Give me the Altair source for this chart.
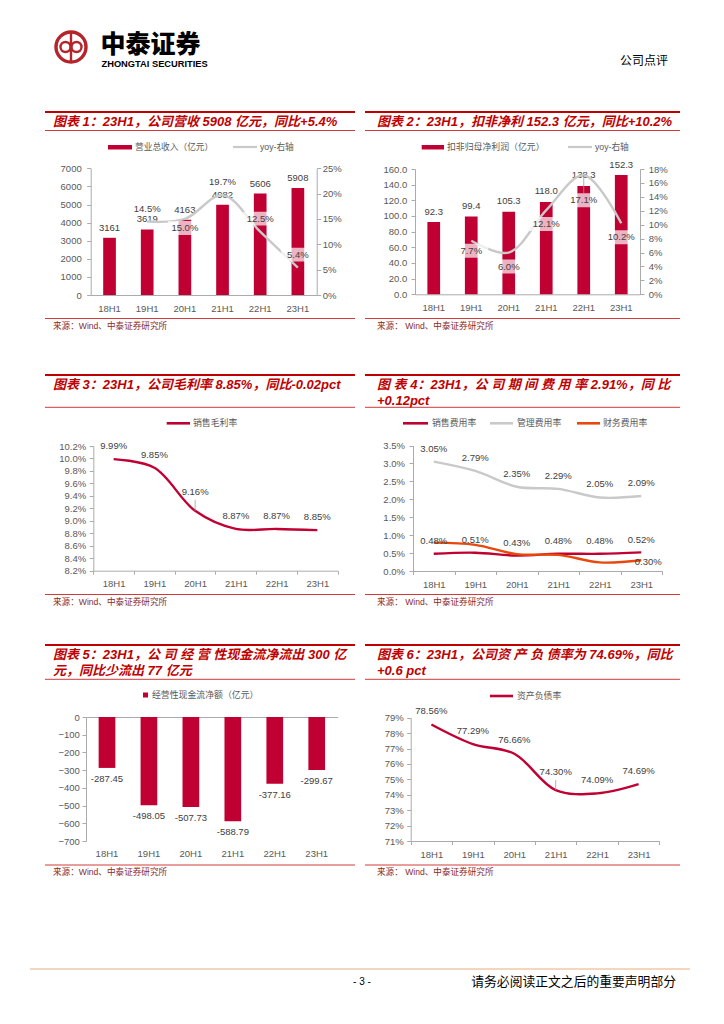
import altair as alt
import pandas as pd

W, H = 708, 1008


def X(v):
    return v - 8


def Y(v):
    return v - 8


# ---------------- data ----------------
cats = ["18H1", "19H1", "20H1", "21H1", "22H1", "23H1"]
revenue = [3161, 3619, 4163, 4982, 5606, 5908]
revenue_yoy = [None, 14.5, 15.0, 19.7, 12.5, 5.4]
profit = [92.3, 99.4, 105.3, 118.0, 138.3, 152.3]
profit_yoy = [None, 7.7, 6.0, 12.1, 17.1, 10.2]
gross_margin = [9.99, 9.85, 9.16, 8.87, 8.87, 8.85]
sales_rate = [0.48, 0.51, 0.43, 0.48, 0.48, 0.52]
admin_rate = [3.05, 2.79, 2.35, 2.29, 2.05, 2.09]
finance_rate = [0.79, 0.73, 0.47, 0.45, 0.24, 0.30]
op_cashflow = [-287.45, -498.05, -507.73, -588.79, -377.16, -299.67]
debt_ratio = [78.56, 77.29, 76.66, 74.30, 74.09, 74.69]

# ---------------- style ----------------
NUM = "Liberation Sans"
CJK = "Noto Sans CJK SC"
MIX = "Liberation Sans, Noto Sans CJK SC"
TITLE_RED = "#C00000"
BAR = "#C00032"
GRAY = "#C9C9C9"
ORANGE = "#E8480C"
AX = "#ABABAB"
LAB = "#595959"
DATA = "#404040"
SRC = "#8C2A2A"
LOGO = "#B5232B"
BOX = "M-1,-0.41L1,-0.41L1,0.41L-1,0.41Z"
BOX_SIZE = 34 * 34

L = []


def txt(x, y, s, size=9.0, color="#000", font=CJK, weight="normal", style="normal", align="left"):
    L.append(alt.Chart(pd.DataFrame({"t": [s]})).mark_text(
        align=align, baseline="middle", font=font, fontSize=size, fontWeight=weight,
        fontStyle=style, color=color).encode(x=alt.value(X(x)), y=alt.value(Y(y)), text="t:N"))


def hrule(x0, x1, y, color, width):
    L.append(alt.Chart(pd.DataFrame({"t": [0]})).mark_rule(color=color, strokeWidth=width).encode(
        x=alt.value(X(x0)), x2=alt.value(X(x1)), y=alt.value(Y(y))))


def box(x0, x1, y0, y1, color):
    L.append(alt.Chart(pd.DataFrame({"t": [0]})).mark_rect(color=color).encode(
        x=alt.value(X(x0)), x2=alt.value(X(x1)), y=alt.value(Y(y0)), y2=alt.value(Y(y1))))


def band(x0, x1, pi=0.0, po=0.0):
    return alt.Scale(type="band", domain=cats, range=[X(x0), X(x1)], paddingInner=pi, paddingOuter=po)


def lin(d0, d1, yb, yt):
    return alt.Scale(type="linear", domain=[d0, d1], range=[Y(yb), Y(yt)], nice=False, zero=False)


def xc(sc, axis=None):
    return alt.X("cat:N", scale=sc, axis=axis, bandPosition=0.5)


def yv(sc, axis=None):
    return alt.Y("v:Q", scale=sc, axis=axis)


def xaxis(yline, **kw):
    base = dict(orient="bottom", offset=Y(yline) - H, title=None, labelAngle=0, labelFont=NUM,
                labelFontSize=9.5, labelColor=LAB, domainColor=AX, tickColor=AX, grid=False,
                labelOverlap=False)
    base.update(kw)
    return alt.Axis(**base)


def yaxis(side, xline, values, pad=4, expr=None, fmt=None):
    off = -X(xline) if side == "left" else X(xline) - W
    base = dict(orient=side, offset=off, values=values, title=None, grid=False, labelFont=NUM,
                labelFontSize=9.5, labelColor=LAB, domainColor=AX, tickColor=AX, tickSize=4,
                labelPadding=pad, labelOverlap=False)
    if expr:
        base["labelExpr"] = expr
    if fmt:
        base["format"] = fmt
    return alt.Axis(**base)


def frame(values, fmt):
    rows = [(c, v, fmt(v)) for c, v in zip(cats, values) if v is not None]
    return pd.DataFrame(rows, columns=["cat", "v", "lab"])


def only(chart, subset):
    return chart.transform_filter(alt.FieldOneOfPredicate(field="cat", oneOf=subset))


def labels(df, xs, ys, dy, subset=None, dx=0, boxed=False):
    out = []
    if boxed:
        b = alt.Chart(df)
        if subset:
            b = only(b, subset)
        out.append(b.mark_point(shape=BOX, size=BOX_SIZE, filled=True, color="white",
                                fillOpacity=0.7, strokeWidth=0, yOffset=dy, xOffset=dx).encode(
            x=xc(xs), y=yv(ys)))
    t = alt.Chart(df)
    if subset:
        t = only(t, subset)
    out.append(t.mark_text(dy=dy, dx=dx, font=NUM, fontSize=9.5, color=DATA, baseline="middle").encode(
        x=xc(xs), y=yv(ys), text="lab:N"))
    L.extend(out)


def leader(df, xs, ys, subset, off):
    L.append(only(alt.Chart(df), subset).mark_rule(color="#9A9A9A", strokeWidth=0.8, y2Offset=off).encode(
        x=xc(xs), y=yv(ys), y2=alt.Y2("v")))


def line(df, xs, ys, color, axis=None, width=2.4):
    L.append(alt.Chart(df).mark_line(interpolate="catmull-rom", color=color, strokeWidth=width).encode(
        x=xc(xs), y=yv(ys, axis)))


# ---------------- header / footer ----------------
L.append(alt.Chart(pd.DataFrame({"t": [0]})).mark_point(shape="circle", size=30 * 30, filled=False,
                                                        stroke=LOGO, strokeWidth=3.4, opacity=1).encode(
    x=alt.value(X(71)), y=alt.value(Y(47))))
for cx in (65.5, 76.5):
    L.append(alt.Chart(pd.DataFrame({"t": [0]})).mark_point(shape="circle", size=10 * 10, filled=False,
                                                            stroke=LOGO, strokeWidth=2.4, opacity=1).encode(
        x=alt.value(X(cx)), y=alt.value(Y(47))))
L.append(alt.Chart(pd.DataFrame({"t": [0]})).mark_rule(color=LOGO, strokeWidth=2.4).encode(
    x=alt.value(X(71)), y=alt.value(Y(33)), y2=alt.value(Y(61))))
txt(100.5, 44.5, "中泰证券", size=25, font=CJK, weight=900)
txt(101.5, 64.2, "ZHONGTAI SECURITIES", size=9.3, font=NUM, weight="bold")
txt(668, 61, "公司点评", size=12, font=CJK, align="right")
hrule(30, 690, 969, "#F2C7A6", 1.5)
txt(362, 982, "- 3 -", size=10, font=NUM, align="center")
txt(676, 982, "请务必阅读正文之后的重要声明部分", size=12.8, font=CJK, align="right")


def panel_frame(left, top_y, title_lines, thin_y, src_y):
    x0, x1 = (45, 355) if left else (365, 680)
    tx = 53 if left else 377
    hrule(x0, x1, top_y, TITLE_RED, 2)
    for i, t in enumerate(title_lines):
        txt(tx, top_y + 10 + i * 16.2, t, size=13, font=MIX, weight="bold", style="italic", color=TITLE_RED)
    hrule(x0, x1, thin_y, "#D23A3A", 1)
    hrule(x0, x1, src_y, "#D23A3A", 1)
    txt(tx, src_y + 7, "来源：Wind、中泰证券研究所" if left else "来源： Wind、中泰证券研究所",
        size=8.6, font=MIX, color=SRC)


# ---------------- chart 1 ----------------
panel_frame(True, 112, ["图表 1：23H1，公司营收 5908 亿元，同比+5.4%"], 130.5, 318.5)
box(108, 132, 145, 149.5, BAR)
txt(135, 147, "营业总收入（亿元）", size=8.7, color=LAB)
hrule(233, 257, 147, GRAY, 2.2)
txt(260, 147, "yoy-右轴", size=8.7, font=MIX, color=LAB)

xs1 = band(90.7, 316.7, 0.663, 0.3315)
yl1 = lin(0, 7000, 295, 168.3)
yr1 = lin(0, 25, 295, 168.3)
d1 = frame(revenue, lambda v: f"{v:d}")
y1 = frame(revenue_yoy, lambda v: f"{v:.1f}%")
L.append(alt.Chart(d1).mark_bar(color=BAR).encode(
    x=alt.X("cat:N", scale=xs1, axis=xaxis(295, ticks=False, tickSize=0, labelPadding=8)),
    y=yv(yl1, yaxis("left", 90.7, list(range(0, 7001, 1000)), pad=5.5, fmt="d"))))
labels(d1, xs1, yl1, -10)
line(y1, xs1, yr1, GRAY, yaxis("right", 316.7, [0, 5, 10, 15, 20, 25], pad=1.5, expr="datum.value + '%'"))
labels(y1, xs1, yr1, -13, ["19H1", "21H1", "22H1", "23H1"], boxed=True)
labels(y1, xs1, yr1, 9, ["20H1"], boxed=True)

# ---------------- chart 2 ----------------
panel_frame(False, 112, ["图表 2：23H1，扣非净利 152.3 亿元，同比+10.2%"], 130.5, 318.5)
box(421.7, 444, 145, 149.5, BAR)
txt(447, 147, "扣非归母净利润（亿元）", size=8.9, color=LAB)
hrule(568, 592, 147, GRAY, 2.2)
txt(595, 147, "yoy-右轴", size=8.7, font=MIX, color=LAB)

xs2 = band(415, 640, 0.661, 0.3305)
yl2 = lin(0, 160, 294.3, 169)
yr2 = lin(0, 18, 294.3, 169)
d2 = frame(profit, lambda v: f"{v:.1f}")
y2 = frame(profit_yoy, lambda v: f"{v:.1f}%")
L.append(alt.Chart(d2).mark_bar(color=BAR).encode(
    x=alt.X("cat:N", scale=xs2, axis=xaxis(294.3, ticks=False, tickSize=0, labelPadding=8.5)),
    y=yv(yl2, yaxis("left", 415, list(range(0, 161, 20)), pad=4.3, fmt=".1f"))))
labels(d2, xs2, yl2, -10.5)
line(y2, xs2, yr2, GRAY, yaxis("right", 640, list(range(0, 19, 2)), pad=4.3, expr="datum.value + '%'"))
leader(y2, xs2, yr2, ["22H1"], 18)
labels(y2, xs2, yr2, 14, ["20H1", "21H1", "23H1"], boxed=True)
labels(y2, xs2, yr2, 10, ["19H1"], boxed=True)
labels(y2, xs2, yr2, 25, ["22H1"], boxed=True)

# ---------------- chart 3 ----------------
panel_frame(True, 375, ["图表 3：23H1，公司毛利率 8.85%，同比-0.02pct"], 407.3, 594.5)
hrule(166.7, 190, 423.3, BAR, 2.6)
txt(193, 423.3, "销售毛利率", size=8.9, color=LAB)

xs3 = band(93.3, 337.7)
ys3 = lin(8.2, 10.2, 570.7, 446)
d3 = frame(gross_margin, lambda v: f"{v:.2f}%")
L.append(alt.Chart(d3).mark_point(opacity=0).encode(
    x=alt.X("cat:N", scale=xs3, axis=xaxis(570.7, tickBand="extent", tickSize=3.5, labelPadding=4.5))))
line(d3, xs3, ys3, BAR, yaxis("left", 93.3, [round(8.2 + 0.2 * i, 1) for i in range(11)], pad=3.6,
                              expr="format(datum.value, '.1f') + '%'"))
leader(d3, xs3, ys3, ["20H1"], -11)
labels(d3, xs3, ys3, -13, ["18H1", "19H1", "21H1", "22H1", "23H1"])
labels(d3, xs3, ys3, -18.5, ["20H1"])

# ---------------- chart 4 ----------------
panel_frame(False, 375, ["图 表  4：23H1，公 司 期 间 费 用 率  2.91%，同 比", "+0.12pct"], 407.3, 594.5)
hrule(403, 428, 423.3, BAR, 2.6)
txt(432, 423.3, "销售费用率", size=8.9, color=LAB)
hrule(490, 513, 423.3, GRAY, 2.6)
txt(517, 423.3, "管理费用率", size=8.9, color=LAB)
hrule(577, 600, 423.3, ORANGE, 2.6)
txt(603, 423.3, "财务费用率", size=8.9, color=LAB)

xs4 = band(413, 662)
ys4 = lin(0, 3.5, 571, 445.5)
ds = frame(sales_rate, lambda v: f"{v:.2f}%")
da = frame(admin_rate, lambda v: f"{v:.2f}%")
dfin = frame(finance_rate, lambda v: f"{v:.2f}%")
L.append(alt.Chart(ds).mark_point(opacity=0).encode(
    x=alt.X("cat:N", scale=xs4, axis=xaxis(571, tickBand="extent", tickSize=3.5, labelPadding=4.5))))
line(da, xs4, ys4, GRAY, yaxis("left", 413, [0, 0.5, 1, 1.5, 2, 2.5, 3, 3.5], pad=4.5,
                               expr="format(datum.value, '.1f') + '%'"))
line(ds, xs4, ys4, BAR)
line(dfin, xs4, ys4, ORANGE)
labels(da, xs4, ys4, -13)
labels(ds, xs4, ys4, -12.7)
labels(dfin, xs4, ys4, 1.8, ["23H1"], dx=7)

# ---------------- chart 5 ----------------
panel_frame(True, 645, ["图表 5：23H1，公 司 经 营 性现金流净流出 300 亿", "元，同比少流出 77 亿元"], 679.3, 865)
box(143, 148, 692.5, 697.5, BAR)
txt(152, 695, "经营性现金流净额（亿元）", size=8.9, color=LAB)

xs5 = band(86, 337.7, 0.602, 0.301)
ys5 = lin(-700, 0, 841, 717)
d5 = frame(op_cashflow, lambda v: f"{v:.2f}")
L.append(alt.Chart(d5).mark_bar(color=BAR).encode(
    x=alt.X("cat:N", scale=xs5, axis=xaxis(841, domain=False, ticks=False, tickSize=0, labelPadding=7.5)),
    y=yv(ys5, yaxis("left", 86, list(range(0, -701, -100)), pad=2.7, fmt="d"))))
L.append(alt.Chart(d5).mark_point(opacity=0).encode(
    x=alt.X("cat:N", scale=xs5, axis=xaxis(717, labels=False, ticks=False, tickSize=0))))
labels(d5, xs5, ys5, 11)

# ---------------- chart 6 ----------------
panel_frame(False, 645, ["图表 6：23H1，公司资 产 负 债率为 74.69%，同比", "+0.6 pct"], 679.3, 865)
hrule(490, 513, 696, BAR, 2.6)
txt(517, 696, "资产负债率", size=8.9, color=LAB)

xs6 = band(410.7, 659.3)
ys6 = lin(71, 79, 841, 717.7)
d6 = frame(debt_ratio, lambda v: f"{v:.2f}%")
L.append(alt.Chart(d6).mark_point(opacity=0).encode(
    x=alt.X("cat:N", scale=xs6, axis=xaxis(841, tickBand="extent", tickSize=3.5, labelPadding=4.5))))
line(d6, xs6, ys6, BAR, yaxis("left", 410.7, list(range(71, 80)), pad=3.4, expr="datum.value + '%'"))
leader(d6, xs6, ys6, ["21H1"], -10)
labels(d6, xs6, ys6, -13.5, ["18H1", "19H1", "20H1", "22H1", "23H1"])
labels(d6, xs6, ys6, -18, ["21H1"])

chart = alt.layer(*L).resolve_scale(x="independent", y="independent").resolve_axis(
    x="independent", y="independent").properties(
    width=W, height=H, autosize=alt.AutoSizeParams(type="none"), padding=0,
    background="white").configure_view(strokeWidth=0)

chart.save("out.html", embed_options={"renderer": "svg", "actions": False})
